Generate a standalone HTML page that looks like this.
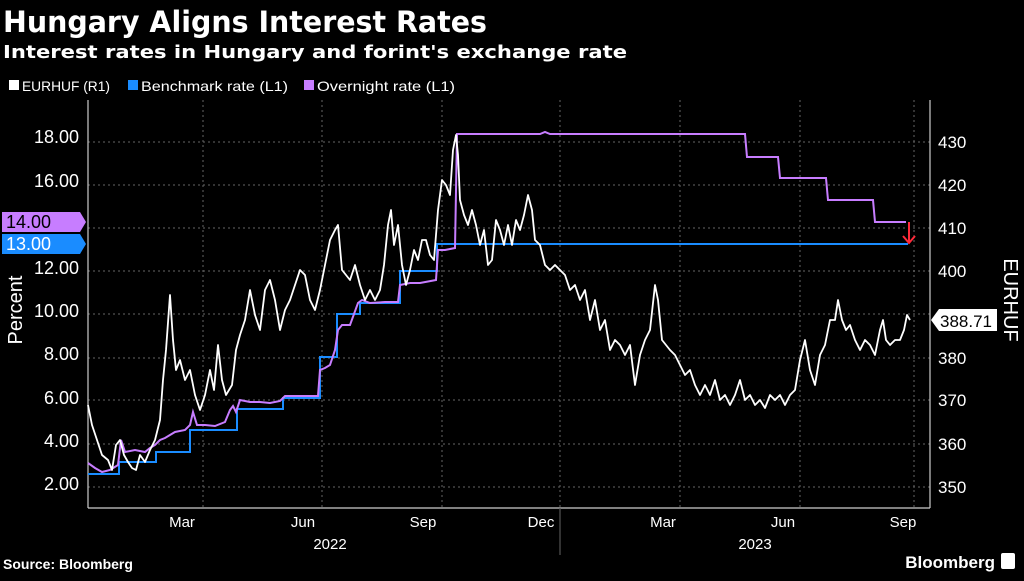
<!DOCTYPE html>
<html><head><meta charset="utf-8"><style>
html,body{margin:0;padding:0;background:#000;}
body{width:1024px;height:576px;overflow:hidden;font-family:"Liberation Sans",sans-serif;}
</style></head><body>
<svg width="1024" height="576" viewBox="0 0 1024 576" xmlns="http://www.w3.org/2000/svg" font-family="Liberation Sans, sans-serif">
<rect width="1024" height="576" fill="#000"/>
<text x="3" y="32" fill="#fff" font-size="29" font-weight="bold" font-family="DejaVu Sans, sans-serif" textLength="484" lengthAdjust="spacingAndGlyphs">Hungary Aligns Interest Rates</text>
<text x="3" y="58" fill="#fff" font-size="18" font-weight="bold" font-family="DejaVu Sans, sans-serif" textLength="624" lengthAdjust="spacingAndGlyphs">Interest rates in Hungary and forint's exchange rate</text>
<rect x="9" y="80" width="10" height="10" fill="#fff"/>
<text x="22" y="91" fill="#fff" font-size="14" textLength="88" lengthAdjust="spacingAndGlyphs">EURHUF (R1)</text>
<rect x="128" y="80" width="10" height="10" fill="#1a8cff"/>
<text x="141" y="91" fill="#fff" font-size="14" textLength="147" lengthAdjust="spacingAndGlyphs">Benchmark rate (L1)</text>
<rect x="304" y="80" width="10" height="10" fill="#c77dff"/>
<text x="317" y="91" fill="#fff" font-size="14" textLength="138" lengthAdjust="spacingAndGlyphs">Overnight rate (L1)</text>

<g stroke="#666" stroke-dasharray="2,3" stroke-width="1">
<line x1="88" y1="142" x2="930" y2="142"/><line x1="88" y1="185" x2="930" y2="185"/>
<line x1="88" y1="228" x2="930" y2="228"/><line x1="88" y1="271" x2="930" y2="271"/>
<line x1="88" y1="314" x2="930" y2="314"/><line x1="88" y1="358" x2="930" y2="358"/>
<line x1="88" y1="400" x2="930" y2="400"/><line x1="88" y1="444" x2="930" y2="444"/>
<line x1="88" y1="487" x2="930" y2="487"/>
<line x1="203" y1="100" x2="203" y2="508"/><line x1="322" y1="100" x2="322" y2="508"/>
<line x1="442" y1="100" x2="442" y2="508"/><line x1="560" y1="100" x2="560" y2="508"/>
<line x1="680" y1="100" x2="680" y2="508"/><line x1="800" y1="100" x2="800" y2="508"/>
<line x1="914" y1="100" x2="914" y2="508"/>
</g>
<g stroke="#ccc" stroke-width="1.2">
<line x1="88" y1="100" x2="88" y2="508"/>
<line x1="88" y1="508" x2="930" y2="508"/>
<line x1="930" y1="100" x2="930" y2="508"/>
<line x1="560" y1="508" x2="560" y2="555" stroke="#555"/>
</g>
<g fill="#fff" font-size="18" text-anchor="end">
<text x="79" y="143">18.00</text><text x="79" y="187">16.00</text>
<text x="79" y="274">12.00</text><text x="79" y="317">10.00</text>
<text x="79" y="360">8.00</text><text x="79" y="404">6.00</text>
<text x="79" y="447">4.00</text><text x="79" y="490">2.00</text>
</g>
<g fill="#fff" font-size="17">
<text x="938" y="148">430</text><text x="938" y="191">420</text>
<text x="938" y="234">410</text><text x="938" y="277">400</text>
<text x="938" y="364">380</text><text x="938" y="406">370</text>
<text x="938" y="450">360</text><text x="938" y="493">350</text>
</g>
<g fill="#fff" font-size="15" text-anchor="middle">
<text x="182" y="527">Mar</text><text x="303" y="527">Jun</text><text x="423" y="527">Sep</text>
<text x="541" y="527">Dec</text><text x="663" y="527">Mar</text><text x="783" y="527">Jun</text>
<text x="903" y="527">Sep</text>
<text x="330" y="549">2022</text><text x="755" y="549">2023</text>
</g>
<text transform="translate(22,310) rotate(-90)" fill="#fff" font-size="20" text-anchor="middle">Percent</text>
<text transform="translate(1004,300) rotate(90)" fill="#fff" font-size="20" text-anchor="middle">EURHUF</text>

<polyline fill="none" stroke="#1a8cff" stroke-width="2" points="88,474 119,474 119,462 156,462 156,452 190,452 190,430 237,430 237,409 283,409 283,398 320,398 320,357 337,357 337,314 360,314 360,303 400,303 400,271 437,271 437,244 908,244"/>
<polyline fill="none" stroke="#c77dff" stroke-width="2" points="88,463 95,468 102,472 110,470 118,465 121,440 125,452 135,450 145,452 150,448 155,445 160,440 165,438 175,432 185,430 190,425 193,412 197,425 205,425 215,426 225,422 230,410 233,406 236,412 240,400 250,402 260,402 270,403 280,401 285,396 300,396 318,396 320,370 325,368 330,365 335,350 338,330 342,325 350,325 358,303 362,300 370,303 385,302 398,302 400,285 410,283 420,283 436,280 438,250 445,250 455,248 457,134 540,134 545,132 550,134 745,134 747,157 778,157 780,178 826,178 828,200 873,200 875,222 906,222"/>
<polyline fill="none" stroke="#fff" stroke-width="1.8" stroke-linejoin="round" points="88,405 92,425 97,440 102,455 108,460 112,470 116,445 120,440 124,455 128,462 132,468 136,470 140,455 145,462 150,450 155,440 160,420 163,380 166,350 170,295 173,340 176,370 180,360 185,380 190,370 195,395 200,410 205,395 210,370 214,390 218,345 222,380 226,395 232,385 236,350 240,335 245,320 250,290 255,315 260,330 265,290 270,280 275,300 280,330 285,310 290,300 295,285 300,270 305,275 310,300 315,310 320,290 325,265 330,240 335,230 338,225 342,270 346,275 350,280 355,265 360,285 365,300 370,290 375,300 380,290 384,265 388,225 391,210 394,245 398,225 402,265 406,285 410,270 414,250 418,260 422,240 426,240 430,255 434,260 438,210 442,180 446,185 450,195 453,150 456,135 458,155 460,200 464,215 468,225 472,210 476,225 480,245 484,230 488,265 492,260 496,220 500,230 504,245 508,225 512,245 516,220 520,230 524,215 528,195 532,210 535,240 540,245 545,265 550,270 555,265 560,270 565,275 570,290 575,285 580,300 585,290 590,320 595,300 600,330 605,320 610,350 615,340 620,345 625,355 630,345 635,385 640,355 645,340 650,330 655,285 658,300 662,340 666,345 670,350 675,355 680,365 685,375 690,370 695,385 700,395 705,385 710,395 715,380 720,400 725,395 730,405 735,395 740,380 745,400 750,395 755,405 760,400 765,408 770,395 775,400 780,395 785,405 790,395 795,390 800,360 805,340 810,370 815,385 820,355 825,345 830,320 835,320 838,300 842,320 846,330 850,325 855,340 860,350 865,340 870,345 875,355 880,330 883,320 886,340 890,345 895,340 900,340 904,330 907,315 910,320"/>
<g stroke="#ff2a3a" stroke-width="2" fill="none">
<line x1="909" y1="222" x2="909" y2="243"/><polyline points="903,236 909,243 915,236"/>
</g>
<path d="M2,212 L80,212 L86,222 L80,232 L2,232 Z" fill="#c77dff"/>
<text x="6" y="228" fill="#000" font-size="18">14.00</text>
<path d="M2,234 L80,234 L86,244 L80,254 L2,254 Z" fill="#1a8cff"/>
<text x="6" y="250" fill="#fff" font-size="18">13.00</text>
<path d="M931,320 L939,309 L997,309 L997,331 L939,331 Z" fill="#fff"/>
<text x="940" y="327" fill="#000" font-size="17">388.71</text>

<text x="3" y="569" fill="#fff" font-size="14" font-weight="bold">Source: Bloomberg</text>
<text x="995" y="568" fill="#fff" font-size="17" font-weight="bold" text-anchor="end">Bloomberg</text>
<rect x="1001" y="553" width="14" height="16" rx="2" fill="#fff"/>
</svg>
</body></html>
